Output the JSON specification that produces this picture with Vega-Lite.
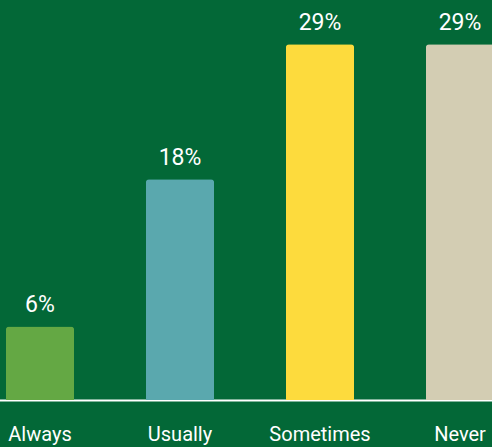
{
  "$schema": "https://vega.github.io/schema/vega-lite/v6.json",
  "width": 492,
  "height": 400,
  "autosize": {"type": "none"},
  "padding": {"left": 0, "top": 0, "right": 0, "bottom": 47},
  "background": "#036837",
  "data": {
    "values": [
      {"answer": "Always", "pct": 6, "label": "6%"},
      {"answer": "Usually", "pct": 18, "label": "18%"},
      {"answer": "Sometimes", "pct": 29, "label": "29%"},
      {"answer": "Never", "pct": 29, "label": "29%"}
    ]
  },
  "encoding": {
    "x": {
      "field": "answer",
      "type": "nominal",
      "sort": null,
      "title": null,
      "scale": {"range": [-30, 530], "paddingInner": 0.514, "paddingOuter": 0.257},
      "axis": {
        "labelAngle": 0,
        "labelColor": "white",
        "labelFont": "Roboto",
        "labelFontSize": 20,
        "labelBaseline": "alphabetic",
        "labelPadding": 40,
        "ticks": false,
        "tickSize": 0,
        "domainColor": "white",
        "domainWidth": 2,
        "grid": false
      }
    },
    "y": {
      "field": "pct",
      "type": "quantitative",
      "scale": {"domain": [0, 32.6], "nice": false},
      "axis": null
    }
  },
  "layer": [
    {
      "mark": {"type": "bar", "cornerRadiusTopLeft": 3, "cornerRadiusTopRight": 3},
      "encoding": {
        "color": {
          "field": "answer",
          "type": "nominal",
          "scale": {
            "domain": ["Always", "Usually", "Sometimes", "Never"],
            "range": ["#64a844", "#5aa8ae", "#fddb3d", "#d3cdb3"]
          },
          "legend": null
        }
      }
    },
    {
      "mark": {
        "type": "text",
        "color": "white",
        "font": "Roboto",
        "fontSize": 23,
        "baseline": "alphabetic",
        "dy": -14
      },
      "encoding": {"text": {"field": "label"}}
    }
  ],
  "config": {"view": {"stroke": null}}
}
